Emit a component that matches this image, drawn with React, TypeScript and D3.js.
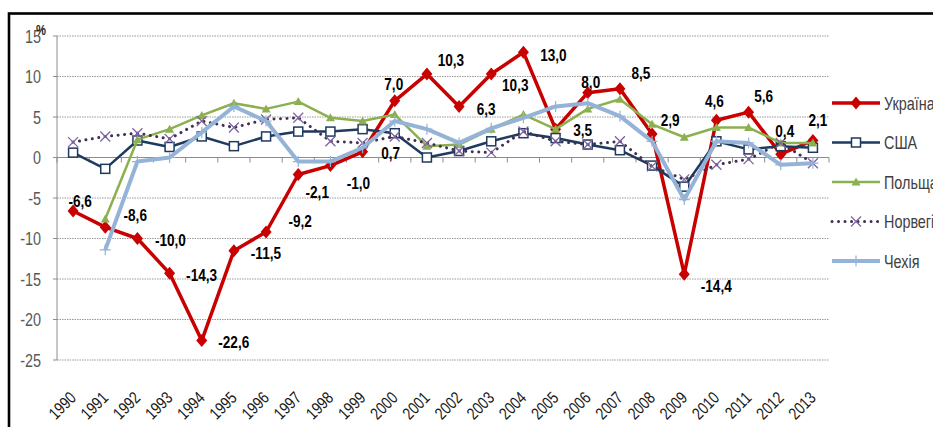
import React from 'react';
import * as d3 from 'd3';

const years = ['1990','1991','1992','1993','1994','1995','1996','1997','1998','1999','2000','2001','2002','2003','2004','2005','2006','2007','2008','2009','2010','2011','2012','2013'];
const ukraine: (number|null)[] = [-6.6,-8.6,-10.0,-14.3,-22.6,-11.5,-9.2,-2.1,-1.0,0.7,7.0,10.3,6.3,10.3,13.0,3.5,8.0,8.5,2.9,-14.4,4.6,5.6,0.4,2.1];
const usa: (number|null)[] = [0.6,-1.4,2.1,1.3,2.6,1.4,2.6,3.2,3.2,3.5,3.0,0.0,0.8,2.0,3.0,2.4,1.6,0.9,-1.0,-3.6,2.0,1.0,1.4,1.2];
const poland: (number|null)[] = [null,-7.6,2.2,3.5,5.2,6.7,6.0,6.9,4.9,4.5,5.3,1.4,1.6,3.5,5.3,3.5,6.0,7.2,4.1,2.5,3.7,3.7,1.8,1.8];
const norway: (number|null)[] = [1.9,2.6,3.0,2.3,4.5,3.7,4.7,4.9,2.0,1.8,2.6,1.8,0.8,0.6,3.2,2.0,1.6,2.0,-1.1,-2.7,-0.9,-0.2,1.8,-0.7];
const czech: (number|null)[] = [null,-11.4,-0.5,0.0,3.1,6.3,4.5,-0.5,-0.5,1.2,4.5,3.5,1.8,3.6,4.9,6.3,6.7,5.1,2.0,-5.2,2.0,1.8,-0.9,-0.7];
const seriesNames = ['Україна','США','Польща','Норвегія','Чехія'];
const yTicks = [15,10,5,0,-5,-10,-15,-20,-25];

// label placement offsets (dx, dy) for Ukraine data labels, relative to marker
const ukraineLabelOffsets: [number, number][] = [
  [7,-10],[30,-12],[33,1],[32,2],[32,1],[32,2],[34,-11],[19,17],[28,17],[28,1],
  [-1,-17],[24,-14],[27,2],[24,11],[30,3],[27,1],[3,-11],[21,-16],[18,-14],[32,12],
  [-2,-19],[15,-16],[4,-23],[5,-21]
];

type MarkerKind = 'diamond'|'square'|'triangle'|'x'|'plus';

const styles = [
  { color: '#C80000', width: 3.5, dash: undefined as string|undefined, marker: 'diamond' as MarkerKind, mColor: '#C80000' },
  { color: '#1F3A5F', width: 2.5, dash: undefined, marker: 'square' as MarkerKind, mColor: '#1F3A5F' },
  { color: '#8CB050', width: 2.5, dash: undefined, marker: 'triangle' as MarkerKind, mColor: '#8CB050' },
  { color: '#403152', width: 3, dash: '0.01 6.5', marker: 'x' as MarkerKind, mColor: '#8064A2' },
  { color: '#95B3D7', width: 4, dash: undefined, marker: 'plus' as MarkerKind, mColor: '#95B3D7' },
];

function Marker({ kind, x, y, color }: { kind: MarkerKind; x: number; y: number; color: string }) {
  switch (kind) {
    case 'diamond':
      return <path d={`M${x},${y-6.5}L${x+5.5},${y}L${x},${y+6.5}L${x-5.5},${y}Z`} fill={color} />;
    case 'square':
      return <rect x={x-4.5} y={y-4.5} width={9} height={9} fill="#fff" stroke={color} strokeWidth={1.5} />;
    case 'triangle':
      return <path d={`M${x},${y-4.5}L${x+4.5},${y+3.5}L${x-4.5},${y+3.5}Z`} fill={color} />;
    case 'x':
      return <path d={`M${x-5},${y-5}L${x+5},${y+5}M${x-5},${y+5}L${x+5},${y-5}`} stroke={color} strokeWidth={1.3} />;
    case 'plus':
      return <path d={`M${x-5.5},${y}L${x+5.5},${y}M${x},${y-5.5}L${x},${y+5.5}`} stroke={color} strokeWidth={1.2} />;
  }
}

const SX = 0.8;

function NText({ x, y, rotate, children, ...rest }: any) {
  const t = `translate(${x},${y})${rotate ? ` rotate(${rotate})` : ''} scale(${SX},1)`;
  return <text transform={t} {...rest}>{children}</text>;
}

export default function App() {
  const W = 933, H = 427;
  const x = d3.scaleBand<string>().domain(years).range([57, 829]);
  const cx = (yr: string) => (x(yr) as number) + x.bandwidth() / 2;
  const y = d3.scaleLinear().domain([-25, 15]).range([360, 36]);
  const all = [ukraine, usa, poland, norway, czech];
  const line = d3.line<number|null>()
    .defined(d => d != null)
    .x((_, i) => cx(years[i]))
    .y(d => y(d as number));
  const font = '"Liberation Sans", Arial, sans-serif';

  return (
    <svg width={W} height={H} style={{ position: 'absolute', left: 0, top: 0, background: '#fff' }} fontFamily={font}>
      <rect x={0} y={0} width={W} height={H} fill="#fff" />
      <rect x={9} y={13.5} width={960} height={460} fill="none" stroke="#000" strokeWidth={2.6} />
      {/* gridlines */}
      {yTicks.filter(t => t !== 0).map(t => (
        <line key={t} x1={57} x2={829} y1={y(t)} y2={y(t)} stroke="#9a9a9a" strokeWidth={1} strokeDasharray="1.5 1" />
      ))}
      {/* y axis */}
      <line x1={57} x2={57} y1={y(15)} y2={y(-25)} stroke="#8c8c8c" strokeWidth={1} />
      {yTicks.map(t => (
        <line key={'t'+t} x1={53} x2={57} y1={y(t)} y2={y(t)} stroke="#8c8c8c" strokeWidth={1} />
      ))}
      {yTicks.map(t => (
        <NText key={'l'+t} x={41} y={y(t)} textAnchor="end" dominantBaseline="central" fontSize={18} fill="#595959">{String(t)}</NText>
      ))}
      <NText x={36} y={35} fontSize={14} fontWeight="bold" fill="#222">%</NText>
      {/* x axis (zero line) */}
      <line x1={57} x2={829} y1={y(0)} y2={y(0)} stroke="#8c8c8c" strokeWidth={1} />
      {d3.range(years.length + 1).map(i => {
        const xx = 57 + i * x.bandwidth();
        return <line key={'xt'+i} x1={xx} x2={xx} y1={y(0)} y2={y(0)+5} stroke="#8c8c8c" strokeWidth={1} />;
      })}
      {years.map(yr => (
        <NText key={'xl'+yr} x={cx(yr)+4} y={399} rotate={-45} textAnchor="end" fontSize={17} fill="#1a1a1a">{yr}</NText>
      ))}
      {/* series */}
      {all.map((s, si) => (
        <g key={'s'+si}>
          <path d={line(s) || ''} fill="none" stroke={styles[si].color} strokeWidth={styles[si].width}
            strokeDasharray={styles[si].dash} strokeLinecap={styles[si].dash ? 'round' : 'butt'} strokeLinejoin="round" />
          {s.map((v, i) => v == null ? null : (
            <Marker key={i} kind={styles[si].marker} x={cx(years[i])} y={y(v)} color={styles[si].mColor} />
          ))}
        </g>
      ))}
      {/* Ukraine data labels */}
      {ukraine.map((v, i) => v == null ? null : (
        <NText key={'dl'+i} x={cx(years[i]) + ukraineLabelOffsets[i][0]} y={y(v) + ukraineLabelOffsets[i][1]}
          textAnchor="middle" dominantBaseline="central" fontSize={17} fontWeight="bold" fill="#000">
          {v.toFixed(1).replace('.', ',')}
        </NText>
      ))}
      {/* legend */}
      {seriesNames.map((name, i) => {
        const ly = 103 + i * 39.5;
        const st = styles[i];
        return (
          <g key={'lg'+i}>
            <line x1={832} x2={880} y1={ly} y2={ly} stroke={st.color} strokeWidth={st.width}
              strokeDasharray={st.dash} strokeLinecap={st.dash ? 'round' : 'butt'} />
            <Marker kind={st.marker} x={856} y={ly} color={st.mColor} />
            <NText x={884} y={ly} dominantBaseline="central" fontSize={18} fill="#404040">{name}</NText>
          </g>
        );
      })}
    </svg>
  );
}
